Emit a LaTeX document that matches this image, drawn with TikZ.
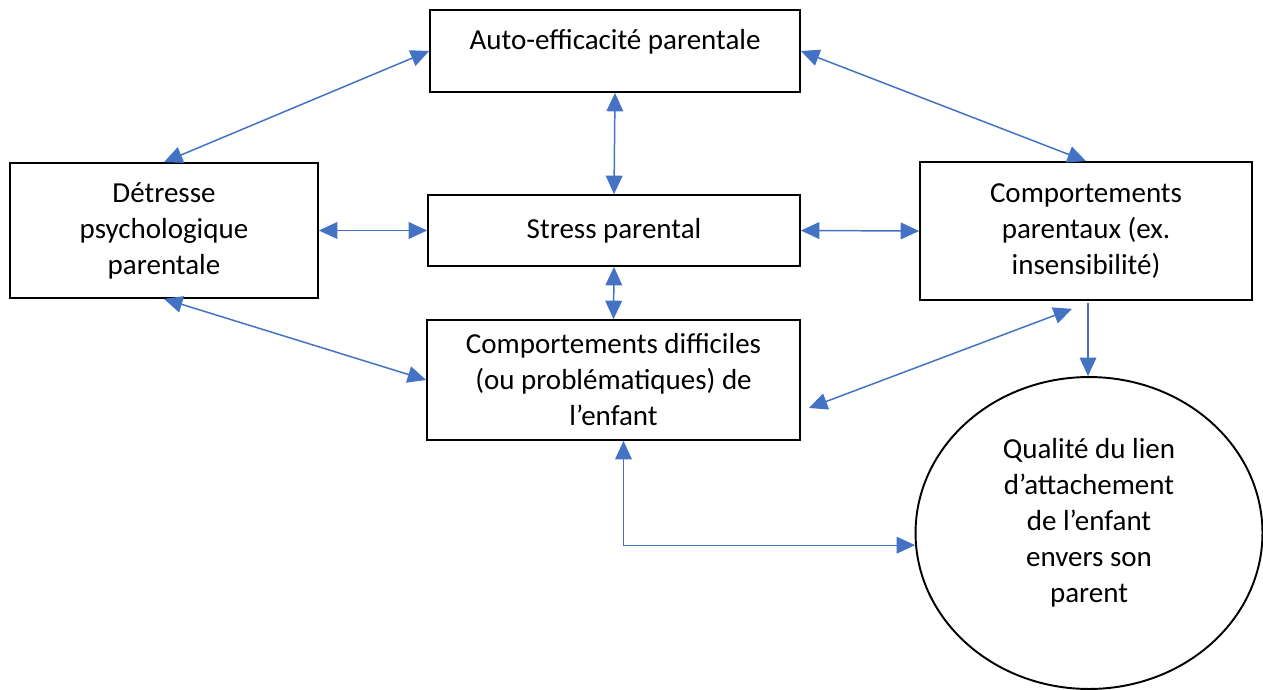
\documentclass[tikz,border=0pt]{standalone}
\usepackage{fontspec}
\setmainfont{Carlito}
\usepackage{xcolor}
\usetikzlibrary{calc}
\usetikzlibrary{positioning,arrows.meta,shapes.geometric}
\definecolor{lienbleu}{HTML}{4472C4}
\tikzset{
  boite/.style={draw, line width=1pt, align=center, inner sep=2pt,
    font=\fontsize{16.5}{20.5}\selectfont},
  lien/.style={lienbleu, line width=0.85pt, >={Triangle[length=10.5pt,width=9.5pt]}},
  lienfin/.style={lien, line width=0.65pt}
}

\begin{document}
\begin{tikzpicture}[x=0.02cm,y=-0.02cm]
\useasboundingbox (0,0) rectangle (1263,689);
\node[boite, minimum width=7.4cm, minimum height=1.64cm, text depth=0.48cm] (auto) at (615,51) {Auto-efficacité parentale};
\node[boite, minimum width=7.44cm, minimum height=1.42cm] (stress) at (614,230.5) {Stress parental};
\node[boite, minimum width=6.16cm, minimum height=2.7cm] (detresse) at (164,230.5) {Détresse\\psychologique\\parentale};
\node[boite, minimum width=6.64cm, minimum height=2.76cm] (parentaux) at (1086,231) {Comportements\\parentaux (ex.\\insensibilité)};
\node[boite, minimum width=7.46cm, minimum height=2.4cm] (difficiles) at (613.5,380) {Comportements difficiles\\(ou problématiques) de\\l’enfant};
\node[boite, ellipse, line width=1.1pt, inner sep=0pt, minimum width=6.94cm, minimum height=6.24cm, text depth=0.5cm] (lienatt) at (1089,533) {Qualité du lien\\d’attachement\\de l’enfant\\envers son\\parent};
\coordinate (depart) at ($(parentaux.south)+(2,2)$);
\coordinate (retour) at ($(difficiles.south)+(10,0)$);
\draw[lien, <->] (detresse.north) -- (auto.west);
\draw[lien, <->] (auto.east) -- (parentaux.north);
\draw[lien, <->] (auto.south) -- (stress.north);
\draw[lien, <->] (detresse.east) -- (stress.west);
\draw[lien, <->] (stress.east) -- (parentaux.west);
\draw[lien, <->] (stress.south) -- (difficiles.north);
\draw[lien, <->] (detresse.south) -- (difficiles.west);
\draw[lien, <->] ($(difficiles.east)+(8,28)$) -- ($(parentaux.south)+(-14,8)$);
\draw[lienfin, ->] (depart) -- (depart |- lienatt.north);
\draw[lienfin, <->] (retour) |- (lienatt.184);
\end{tikzpicture}
\end{document}
